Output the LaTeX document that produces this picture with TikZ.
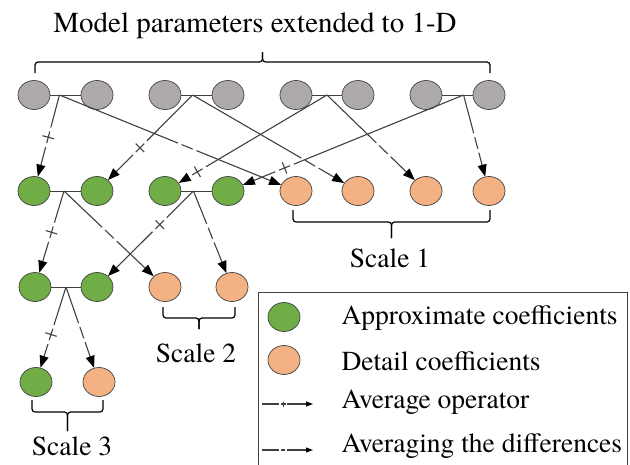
\documentclass[tikz,border=0pt]{standalone}
\usepackage{fontspec}
\setmainfont{texgyretermes}[Extension=.otf,UprightFont=*-regular,BoldFont=*-bold]
\usetikzlibrary{shapes.geometric,arrows.meta,calc}
\definecolor{paramgray}{HTML}{AEAAAA}
\definecolor{approxgreen}{HTML}{70AD47}
\definecolor{detailorange}{HTML}{F4B183}
\definecolor{edgegray}{HTML}{404040}
\tikzset{
	coef/.style={ellipse,draw=edgegray,line width=0.7pt,minimum width=32pt,minimum height=29pt,inner sep=0pt},
	param/.style={coef,fill=paramgray},
	approx/.style={coef,fill=approxgreen},
	detail/.style={coef,fill=detailorange},
	pairline/.style={draw=edgegray,line width=0.8pt},
	opline/.style={draw=edgegray,line width=1.1pt,-{Triangle[length=12pt,width=9pt,color=black]}},
	bracestyle/.style={line width=1.2pt,rounded corners=3pt},
	legendbox/.style={draw=edgegray,line width=0.9pt},
	txt/.style={font=\fontsize{27.5}{30}\selectfont},
	opgap/.store in=\opgap, opgap=10pt,
	oparm/.store in=\oparm, oparm=6pt,
	% average operator: line -- plus -- arrow
	avgop/.style={to path={
		($(\tikztostart)!#1!(\tikztotarget)$) coordinate (mk)
		(\tikztostart) -- ($(mk)!\opgap!(\tikztostart)$)
		($(mk)!\oparm!(\tikztostart)$) -- ($(mk)!\oparm!(\tikztotarget)$)
		($(mk)!\oparm!90:(\tikztotarget)$) -- ($(mk)!\oparm!-90:(\tikztotarget)$)
		($(mk)!\opgap!(\tikztotarget)$) -- (\tikztotarget)}},
	% averaging the differences: line -- minus -- arrow
	difop/.style={to path={
		($(\tikztostart)!#1!(\tikztotarget)$) coordinate (mk)
		(\tikztostart) -- ($(mk)!\opgap!(\tikztostart)$)
		($(mk)!\oparm!(\tikztostart)$) -- ($(mk)!\oparm!(\tikztotarget)$)
		($(mk)!\opgap!(\tikztotarget)$) -- (\tikztotarget)}}
}
% left x, right x, tip y, bar y, cusp y
\newcommand{\scalebrace}[5]{%
	\draw[bracestyle] (#1,#3) -- (#1,#4) -- ({(#1+#2)/2},#4) -- ({(#1+#2)/2},#5);
	\draw[bracestyle] (#2,#3) -- (#2,#4) -- ({(#1+#2)/2},#4) -- ({(#1+#2)/2},#5);
}

\begin{document}
\begin{tikzpicture}[x=1pt,y=-1pt]
	\useasboundingbox (0,0) rectangle (630,464);

	\node[txt,font=\fontsize{29}{32}\selectfont,anchor=base] (title) at (255,32) {Model parameters extended to 1-D};
	\scalebrace{35}{490}{73}{62}{52}

	% model parameters
	\node[param] (m1) at (34,95) {};
	\node[param] (m2) at (97,95) {};
	\node[param] (m3) at (165,95) {};
	\node[param] (m4) at (228,95) {};
	\node[param] (m5) at (296,95) {};
	\node[param] (m6) at (358,95) {};
	\node[param] (m7) at (426,95) {};
	\node[param] (m8) at (489,95) {};

	% scale 1
	\node[approx] (a11) at (34,191) {};
	\node[approx] (a12) at (97,191) {};
	\node[approx] (a13) at (165,191) {};
	\node[approx] (a14) at (228,191) {};
	\node[detail] (d11) at (296,191) {};
	\node[detail] (d12) at (358,191) {};
	\node[detail] (d13) at (426,191) {};
	\node[detail] (d14) at (489,191) {};

	% scale 2
	\node[approx] (a21) at (35,287) {};
	\node[approx] (a22) at (97,287) {};
	\node[detail] (d21) at (165,287) {};
	\node[detail] (d22) at (232,287) {};

	% scale 3
	\node[approx] (a31) at (36,382) {};
	\node[detail] (d31) at (99,382) {};

	\draw[pairline] (m1) -- (m2);
	\draw[pairline] (m3) -- (m4);
	\draw[pairline] (m5) -- (m6);
	\draw[pairline] (m7) -- (m8);
	\draw[pairline] (a11) -- (a12);
	\draw[pairline] (a13) -- (a14);
	\draw[pairline] (a21) -- (a22);

	\coordinate (b1) at ($(m1.east)!.3!(m2.west)$);
	\coordinate (b2) at ($(m3.east)!.37!(m4.west)$);
	\coordinate (b3) at ($(m5.east)!.5!(m6.west)$);
	\coordinate (b4) at ($(m7.east)!.7!(m8.west)$);
	\coordinate (c1) at ($(a11.east)!.45!(a12.west)$);
	\coordinate (c2) at ($(a13.east)!.4!(a14.west)$);
	\coordinate (c3) at ($(a21.east)!.5!(a22.west)$);

	\draw[opline] (b1) to[avgop=.44] (a11);
	\draw[opline] (b1) to[difop=.54] (d11);
	\draw[opline] (b2) to[avgop=.55] (a12);
	\draw[opline] (b2) to[difop=.71] (d12);
	\draw[opline] (b3) to[avgop=.8] (a13);
	\draw[opline] (b3) to[difop=.57] (d13);
	\draw[opline] (b4) to[avgop=.76] (a14);
	\draw[opline] (b4) to[difop=.5] (d14);

	\draw[opline] (c1) to[avgop=.43] (a21);
	\draw[opline] (c1) to[difop=.45] (d21);
	\draw[opline] (c2) to[avgop=.35] (a22);
	\draw[opline] (c2) to[difop=.44] (d22);

	\draw[opline] (c3) to[avgop=.5] (a31);
	\draw[opline] (c3) to[difop=.48] (d31);

	\scalebrace{293}{490}{210}{222}{238}
	\node[txt,anchor=base] (scale1) at (390,267) {Scale 1};
	\scalebrace{163}{235}{307}{318}{329}
	\node[txt,anchor=base] (scale2) at (196,362) {Scale 2};
	\scalebrace{32}{103}{400}{412}{431}
	\node[txt,anchor=base] (scale3) at (72,455) {Scale 3};

	% legend
	\draw[legendbox] (258,292) rectangle (627,470);
	\node[approx] (lga) at (284,317) {};
	\node[detail] (lgd) at (284,360) {};
	\node[txt,anchor=base west] (lta) at (338,324) {Approximate coefficients};
	\node[txt,anchor=base west] (ltd) at (338,370) {Detail coefficients};
	\coordinate (la1) at (262,404);
	\coordinate (la2) at (313,404);
	\coordinate (lb1) at (262,450);
	\coordinate (lb2) at (313,450);
	\draw[opline,-{Triangle[length=7pt,width=5pt,color=black]},opgap=4pt,oparm=2.5pt] (la1) to[avgop=.42] (la2);
	\draw[opline,-{Triangle[length=7pt,width=5pt,color=black]},opgap=4pt,oparm=2pt] (lb1) to[difop=.42] (lb2);
	\node[txt,anchor=base west] (ltavg) at (338,408) {Average operator};
	\node[txt,anchor=base west] (ltdif) at (338,452) {Averaging the differences};
\end{tikzpicture}
\end{document}
